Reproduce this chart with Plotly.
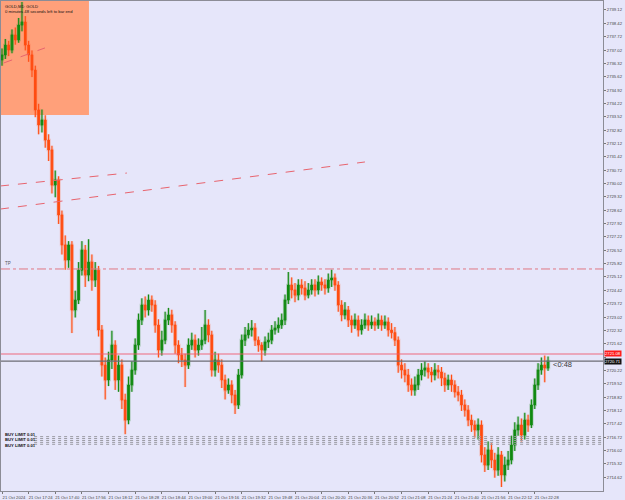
import pandas as pd
import plotly.graph_objects as go

# ---------------- data (GOLD, 2-minute bars, 21 Oct 2024) ----------------
opens = [
    2736.50, 2736.76, 2737.28, 2737.02, 2737.81, 2737.55, 2738.33, 2738.49, 2737.28,
    2736.76, 2735.97, 2733.88, 2733.09, 2733.35, 2732.30, 2731.78, 2729.94, 2730.21,
    2728.37, 2726.80, 2726.01, 2726.80, 2723.39, 2723.91, 2725.48, 2726.53, 2725.22,
    2725.90, 2724.96, 2725.48, 2722.34, 2720.50, 2719.72, 2720.77, 2721.55, 2719.72,
    2720.50, 2718.67, 2717.62, 2719.46, 2720.24, 2721.55, 2722.86, 2723.65, 2723.39,
    2723.91, 2723.65, 2722.60, 2721.29, 2721.81, 2722.86, 2723.13, 2722.60, 2721.55,
    2721.03, 2720.77, 2720.50, 2721.55, 2721.81, 2721.29, 2721.55, 2721.81, 2722.60,
    2722.08, 2720.24, 2720.77, 2720.50, 2719.72, 2719.19, 2719.46, 2718.93, 2718.41,
    2719.98, 2721.81, 2722.08, 2722.34, 2722.44, 2721.81, 2721.55, 2721.29, 2721.71,
    2721.81, 2722.34, 2722.44, 2722.60, 2722.86, 2723.91, 2724.70, 2724.44, 2724.17,
    2724.70, 2724.54, 2724.17, 2724.44, 2724.70, 2724.44, 2724.86, 2724.70, 2724.54,
    2724.96, 2725.07, 2724.70, 2723.65, 2723.13, 2723.39, 2722.86, 2722.60, 2722.86,
    2722.34, 2722.60, 2722.86, 2722.60, 2722.76, 2722.60, 2722.86, 2722.60, 2722.76,
    2722.34, 2722.20, 2721.81, 2720.50, 2720.24, 2719.98, 2719.46, 2719.19, 2719.46,
    2719.98, 2720.24, 2720.35, 2720.14, 2719.98, 2720.24, 2720.14, 2719.82, 2719.46,
    2719.72, 2719.46, 2719.09, 2718.93, 2718.41, 2718.14, 2717.62, 2717.36, 2717.10,
    2717.36, 2715.79, 2715.26, 2716.05, 2715.52, 2715.00, 2715.79, 2714.74, 2715.26,
    2715.52, 2716.31, 2717.10, 2717.36, 2716.83, 2717.62, 2717.36, 2718.41, 2719.46,
    2720.24, 2720.50, 2720.35,
]
highs = [
    2737.10, 2737.60, 2737.50, 2738.10, 2738.20, 2738.70, 2739.54, 2738.80, 2737.50,
    2737.00, 2736.20, 2734.20, 2733.90, 2733.60, 2732.60, 2732.00, 2730.70, 2730.40,
    2728.60, 2727.30, 2727.00, 2727.00, 2724.40, 2725.90, 2727.00, 2726.80, 2727.10,
    2726.30, 2725.90, 2725.70, 2722.60, 2720.90, 2721.20, 2722.30, 2721.80, 2721.00,
    2720.80, 2719.00, 2719.90, 2720.70, 2721.90, 2723.20, 2724.00, 2724.10, 2724.20,
    2724.15, 2723.90, 2722.90, 2722.30, 2723.30, 2723.50, 2723.40, 2722.80, 2721.80,
    2721.40, 2721.10, 2721.90, 2722.20, 2722.10, 2721.90, 2722.50, 2723.39, 2722.90,
    2722.30, 2721.20, 2721.10, 2720.80, 2720.00, 2719.80, 2719.70, 2719.20, 2720.30,
    2722.10, 2722.50, 2722.70, 2722.86, 2722.70, 2722.00, 2721.70, 2722.00, 2722.20,
    2722.60, 2722.80, 2723.00, 2723.20, 2724.20, 2725.38, 2725.10, 2724.80, 2725.00,
    2725.00, 2724.90, 2724.80, 2725.00, 2725.00, 2725.20, 2725.10, 2725.00, 2725.30,
    2725.50, 2725.30, 2724.90, 2723.90, 2723.80, 2723.60, 2723.10, 2723.20, 2723.10,
    2722.90, 2723.20, 2723.10, 2723.10, 2723.00, 2723.20, 2723.10, 2723.10, 2723.00,
    2722.70, 2722.50, 2722.00, 2720.80, 2720.60, 2720.30, 2719.80, 2719.90, 2720.30,
    2720.60, 2720.70, 2720.60, 2720.40, 2720.60, 2720.50, 2720.40, 2720.10, 2720.00,
    2720.00, 2719.70, 2719.40, 2719.20, 2718.70, 2718.40, 2717.90, 2717.60, 2717.70,
    2717.60, 2716.20, 2716.50, 2716.40, 2715.90, 2716.20, 2716.00, 2715.70, 2716.00,
    2716.80, 2717.50, 2717.80, 2717.70, 2718.00, 2717.90, 2718.70, 2719.80, 2720.60,
    2720.90, 2721.00, 2720.95,
]
lows = [
    2736.20, 2736.55, 2736.70, 2736.85, 2737.30, 2737.40, 2738.00, 2737.00, 2736.40,
    2735.60, 2733.50, 2732.60, 2732.70, 2731.90, 2731.20, 2729.50, 2729.30, 2727.90,
    2726.30, 2725.50, 2725.60, 2722.18, 2723.00, 2723.70, 2725.20, 2724.60, 2724.90,
    2724.40, 2724.60, 2722.00, 2719.90, 2718.70, 2719.40, 2720.30, 2719.20, 2719.10,
    2718.20, 2716.88, 2717.40, 2719.10, 2720.00, 2721.30, 2722.60, 2723.00, 2723.10,
    2723.30, 2722.20, 2720.90, 2721.00, 2721.60, 2722.60, 2722.20, 2721.10, 2720.60,
    2720.40, 2719.35, 2720.30, 2721.30, 2720.90, 2721.00, 2721.30, 2721.60, 2721.70,
    2719.90, 2719.90, 2720.10, 2719.30, 2718.70, 2719.00, 2718.50, 2717.94, 2718.20,
    2719.80, 2721.50, 2721.90, 2722.00, 2721.50, 2721.20, 2720.70, 2721.00, 2721.40,
    2721.60, 2722.10, 2722.20, 2722.40, 2722.60, 2723.70, 2724.00, 2723.80, 2723.90,
    2724.20, 2723.90, 2724.00, 2724.20, 2724.10, 2724.20, 2724.40, 2724.20, 2724.30,
    2724.60, 2724.40, 2723.30, 2722.80, 2722.90, 2722.50, 2722.20, 2722.40, 2722.00,
    2722.10, 2722.40, 2722.30, 2722.40, 2722.30, 2722.40, 2722.30, 2722.40, 2722.00,
    2721.90, 2721.50, 2720.10, 2719.80, 2719.60, 2719.10, 2718.90, 2718.90, 2719.20,
    2719.70, 2719.90, 2719.80, 2719.60, 2719.70, 2719.80, 2719.40, 2719.10, 2719.20,
    2719.10, 2718.80, 2718.60, 2718.10, 2717.80, 2717.30, 2717.00, 2716.70, 2716.60,
    2715.40, 2714.90, 2715.00, 2715.10, 2714.60, 2714.70, 2714.11, 2714.40, 2715.00,
    2715.30, 2716.00, 2716.80, 2716.50, 2716.60, 2717.00, 2717.20, 2718.20, 2719.20,
    2720.00, 2719.60, 2720.20,
]
closes = [
    2736.76, 2737.28, 2737.02, 2737.81, 2737.55, 2738.33, 2738.49, 2737.28, 2736.76,
    2735.97, 2733.88, 2733.09, 2733.35, 2732.30, 2731.78, 2729.94, 2730.21, 2728.37,
    2726.80, 2726.01, 2726.80, 2723.39, 2723.91, 2725.48, 2726.53, 2725.22, 2725.90,
    2724.96, 2725.48, 2722.34, 2720.50, 2719.72, 2720.77, 2721.55, 2719.72, 2720.50,
    2718.67, 2717.62, 2719.46, 2720.24, 2721.55, 2722.86, 2723.65, 2723.39, 2723.91,
    2723.65, 2722.60, 2721.29, 2721.81, 2722.86, 2723.13, 2722.60, 2721.55, 2721.03,
    2720.77, 2720.50, 2721.55, 2721.81, 2721.29, 2721.55, 2721.81, 2722.60, 2722.08,
    2720.24, 2720.77, 2720.50, 2719.72, 2719.19, 2719.46, 2718.93, 2718.41, 2719.98,
    2721.81, 2722.08, 2722.34, 2722.44, 2721.81, 2721.55, 2721.29, 2721.71, 2721.81,
    2722.34, 2722.44, 2722.60, 2722.86, 2723.91, 2724.70, 2724.44, 2724.17, 2724.70,
    2724.54, 2724.17, 2724.44, 2724.70, 2724.44, 2724.86, 2724.70, 2724.54, 2724.96,
    2725.07, 2724.70, 2723.65, 2723.13, 2723.39, 2722.86, 2722.60, 2722.86, 2722.34,
    2722.60, 2722.86, 2722.60, 2722.76, 2722.60, 2722.86, 2722.60, 2722.76, 2722.34,
    2722.20, 2721.81, 2720.50, 2720.24, 2719.98, 2719.46, 2719.19, 2719.46, 2719.98,
    2720.24, 2720.35, 2720.14, 2719.98, 2720.24, 2720.14, 2719.82, 2719.46, 2719.72,
    2719.46, 2719.09, 2718.93, 2718.41, 2718.14, 2717.62, 2717.36, 2717.10, 2717.36,
    2715.79, 2715.26, 2716.05, 2715.52, 2715.00, 2715.79, 2714.74, 2715.26, 2715.52,
    2716.31, 2717.10, 2717.36, 2716.83, 2717.62, 2717.36, 2718.41, 2719.46, 2720.24,
    2720.50, 2720.35, 2720.71,
]
bar_start = "2024-10-21 17:08"
bar_freq = "2min"

x_tick_times = ["2024-10-21 17:08", "2024-10-21 17:24", "2024-10-21 17:40", "2024-10-21 17:56",
                "2024-10-21 18:12", "2024-10-21 18:28", "2024-10-21 18:44", "2024-10-21 19:00",
                "2024-10-21 19:16", "2024-10-21 19:32", "2024-10-21 19:48", "2024-10-21 20:04",
                "2024-10-21 20:20", "2024-10-21 20:36", "2024-10-21 20:52", "2024-10-21 21:08",
                "2024-10-21 21:24", "2024-10-21 21:40", "2024-10-21 21:56", "2024-10-21 22:12",
                "2024-10-21 22:28"]
x_tick_labels = ["21 Oct 2024", "21 Oct 17:24", "21 Oct 17:40", "21 Oct 17:56", "21 Oct 18:12",
                 "21 Oct 18:28", "21 Oct 18:44", "21 Oct 19:00", "21 Oct 19:16", "21 Oct 19:32",
                 "21 Oct 19:48", "21 Oct 20:04", "21 Oct 20:20", "21 Oct 20:36", "21 Oct 20:52",
                 "21 Oct 21:08", "21 Oct 21:24", "21 Oct 21:40", "21 Oct 21:56", "21 Oct 22:12",
                 "21 Oct 22:28"]
y_ticks = [2739.12, 2738.42, 2737.72, 2737.02, 2736.32, 2735.62, 2734.92, 2734.22, 2733.52,
           2732.82, 2732.12, 2731.42, 2730.72, 2730.02, 2729.32, 2728.62, 2727.92, 2727.22,
           2726.52, 2725.82, 2725.12, 2724.42, 2723.72, 2723.02, 2722.32, 2721.62, 2720.92,
           2720.22, 2719.52, 2718.82, 2718.12, 2717.42, 2716.72, 2716.02, 2715.32, 2714.62]
# the 2720.92 label sits under the bid/ask price boxes in the terminal, so it is not shown
y_tick_labels = ["" if v == 2720.92 else "%.2f" % v for v in y_ticks]

x_range = ["2024-10-21 17:07:24", "2024-10-21 23:09:00"]
y_range = [2713.90, 2739.59]

ask_price = 2721.08
bid_price = 2720.71
tp_price = 2725.54
order_prices = [2716.75, 2716.65, 2716.55, 2716.45, 2716.35]
order_label = "<b>BUY LIMIT 0.01</b><br><b>BUY LIMIT 0.01</b><br><b>BUY LIMIT 0.01</b>"
box_time = ["2024-10-21 17:07:00", "2024-10-21 18:00:14"]
box_price = [2733.61, 2739.59]
trendlines = [  # (time0, price0, time1, price1)
    ("2024-10-21 17:09:00", 2736.34, "2024-10-21 17:33:49", 2737.13),
    ("2024-10-21 17:06:48", 2729.89, "2024-10-21 18:23:00", 2730.57),
    ("2024-10-21 17:06:48", 2728.68, "2024-10-21 20:46:00", 2731.15),
]

# ---------------- figure ----------------
times = pd.date_range(bar_start, periods=len(closes), freq=bar_freq)
BG = "#E6E6FA"
FONT = "Liberation Sans"

fig = go.Figure()
# soft halo (imitates the anti-aliased look of the terminal screenshot)
fig.add_trace(go.Candlestick(
    x=times, open=opens, high=highs, low=lows, close=closes,
    increasing=dict(line=dict(color="rgba(60,150,60,0.35)", width=2.6), fillcolor="rgba(60,150,60,0.35)"),
    decreasing=dict(line=dict(color="rgba(255,120,80,0.35)", width=2.6), fillcolor="rgba(255,120,80,0.35)"),
    hoverinfo="skip", showlegend=False))
fig.add_trace(go.Candlestick(
    x=times, open=opens, high=highs, low=lows, close=closes,
    increasing=dict(line=dict(color="#118a11", width=1), fillcolor="#118a11"),
    decreasing=dict(line=dict(color="#ff4c10", width=1), fillcolor="#ff4c10"),
    showlegend=False))

shapes = [
    dict(type="rect", xref="x", yref="y", x0=box_time[0], x1=box_time[1],
         y0=box_price[0], y1=box_price[1], fillcolor="#FFA07A", line=dict(width=0), layer="below"),
    dict(type="line", xref="paper", yref="y", x0=0, x1=1, y0=tp_price, y1=tp_price,
         line=dict(color="#e07882", width=1, dash="dashdot")),
    dict(type="line", xref="paper", yref="y", x0=0, x1=1, y0=ask_price, y1=ask_price,
         line=dict(color="rgba(240,90,110,0.45)", width=2)),
    dict(type="line", xref="paper", yref="y", x0=0, x1=1, y0=bid_price, y1=bid_price,
         line=dict(color="#6c6c74", width=1.2)),
]
for p in order_prices:
    shapes.append(dict(type="line", xref="paper", yref="y", x0=0.055, x1=1, y0=p, y1=p,
                       line=dict(color="#9a9aa2", width=1, dash="dot")))
for t0, p0, t1, p1 in trendlines:
    shapes.append(dict(type="line", xref="x", yref="y", x0=t0, y0=p0, x1=t1, y1=p1,
                       line=dict(color="#e8646e", width=1, dash="dash")))

annotations = [
    dict(xref="paper", yref="paper", x=0, y=1, xshift=2, yshift=-1, xanchor="left", yanchor="top",
         text="GOLD,M1: GOLD", showarrow=False, font=dict(family=FONT, size=4.2, color="#111")),
    dict(xref="paper", yref="paper", x=0, y=1, xshift=2, yshift=-6, xanchor="left", yanchor="top",
         text="0 minutes 48 seconds left to bar end", showarrow=False,
         font=dict(family=FONT, size=4.2, color="#111")),
    dict(xref="paper", yref="y", x=0, y=tp_price, xshift=2, yshift=1, xanchor="left", yanchor="bottom",
         text="TP", showarrow=False, font=dict(family=FONT, size=4.5, color="#555")),
    dict(xref="x", yref="y", x=times[-1], y=2720.55, xshift=3, xanchor="left", yanchor="middle",
         text="<0:48", showarrow=False, font=dict(family=FONT, size=7.5, color="#3a3a3a")),
    dict(xref="paper", yref="y", x=1, y=ask_price, xshift=1, yshift=0.5, xanchor="left",
         yanchor="middle", text="2721.08", showarrow=False, bgcolor="#ff1a1a", borderpad=0,
         font=dict(family=FONT, size=4.2, color="white")),
    dict(xref="paper", yref="y", x=1, y=bid_price, xshift=1, yshift=-0.5, xanchor="left",
         yanchor="middle", text="2720.71", showarrow=False, bgcolor="#111111", borderpad=0,
         font=dict(family=FONT, size=4.2, color="white")),
    dict(xref="paper", yref="y", x=0, y=order_prices[2], xshift=2, xanchor="left",
         yanchor="middle", text=order_label, showarrow=False, align="left",
         font=dict(family=FONT, size=4.2, color="#111")),
]

fig.update_layout(
    width=625, height=500,
    margin=dict(l=1, r=22, t=1, b=9),
    paper_bgcolor=BG, plot_bgcolor=BG,
    shapes=shapes, annotations=annotations,
    showlegend=False, hovermode=False,
    xaxis=dict(type="date", range=x_range, rangeslider=dict(visible=False),
               tickvals=x_tick_times, ticktext=x_tick_labels, ticks="outside", ticklen=2,
               tickangle=0, tickcolor="#777", tickfont=dict(family=FONT, size=4.2, color="#444"),
               ticklabelshift=12, ticklabelstandoff=0,
               showgrid=False, zeroline=False, showline=True, linecolor="#8c8c96",
               linewidth=1, mirror=True, automargin=False, fixedrange=True),
    yaxis=dict(side="right", range=y_range, tickvals=y_ticks, ticktext=y_tick_labels,
               ticks="outside", ticklen=2, tickcolor="#777",
               tickfont=dict(family=FONT, size=4.2, color="#444"), ticklabelstandoff=0,
               showgrid=False, zeroline=False, showline=True, linecolor="#8c8c96",
               linewidth=1, mirror=True, automargin=False, fixedrange=True),
)
fig.write_html("out.html")
